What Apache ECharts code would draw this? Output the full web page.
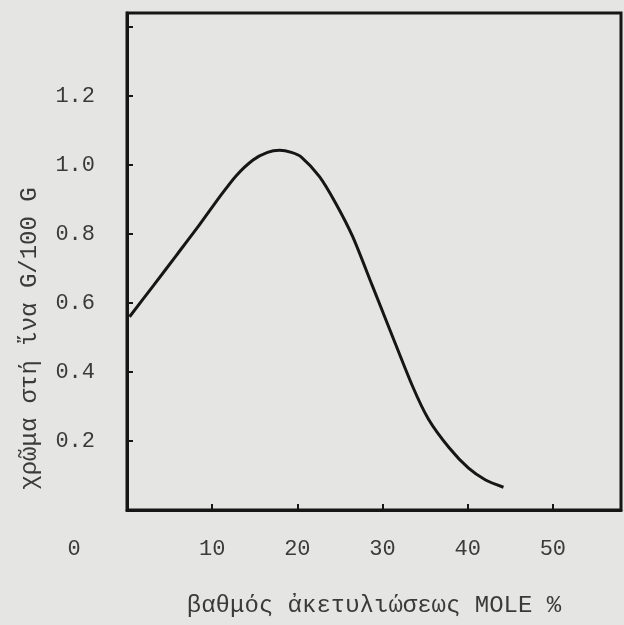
<!DOCTYPE html>
<html lang="el">
<head>
<meta charset="UTF-8">
<title>χρῶμα στή ἴνα</title>
<script src="https://cdn.jsdelivr.net/npm/echarts@6/dist/echarts.min.js"></script>
<style>
html, body { margin: 0; padding: 0; background: #e5e5e3; }
#main { width: 624px; height: 625px; }
</style>
</head>
<body>
<div id="main"></div>
<script>
// βαθμός ακετυλιώσεως (mole %)
var degreeX = [0.3, 3.1, 5.8, 8.5, 10.9, 12.8, 14.8, 16.5, 17.9, 19.3, 20.5, 22.6, 24.5, 26.5, 28.8, 30.8, 33.5, 35.4, 37.8, 40.1, 42.1, 44.2];
// χρώμα στην ίνα (g/100 g)
var colourY = [0.56, 0.65, 0.738, 0.826, 0.908, 0.968, 1.014, 1.036, 1.042, 1.036, 1.022, 0.966, 0.889, 0.792, 0.65, 0.526, 0.36, 0.263, 0.181, 0.121, 0.087, 0.066];
var xTicks = [0, 10, 20, 30, 40, 50];
var yTicks = [0.2, 0.4, 0.6, 0.8, 1.0, 1.2];
var xTitle = 'βαθμός ἀκετυλιώσεως MOLE %';
var yTitle = 'χρῶμα στή ἴνα G/100 G';

var ink = '#161616';
var txt = '#3a3a3a';
var font = 'Liberation Mono, DejaVu Sans Mono, monospace';

var points = degreeX.map(function (x, i) { return [x, colourY[i]]; });

var chart = echarts.init(document.getElementById('main'));
chart.setOption({
  backgroundColor: '#e5e5e3',
  animation: false,
  grid: {
    left: 127, right: 1, top: 13, bottom: 115,
    show: true, borderColor: ink, borderWidth: 3
  },
  xAxis: {
    type: 'value', min: 0, max: 58, interval: 10,
    splitLine: { show: false },
    axisLine: { lineStyle: { color: ink, width: 3 } },
    axisTick: { inside: true, length: 6, lineStyle: { color: ink, width: 2 } },
    axisLabel: {
      margin: 28, color: txt, fontFamily: font, fontSize: 22,
      formatter: function (v) {
        if (xTicks.indexOf(v) < 0) return '';
        return v === 0 ? '{z|0}' : String(v);
      },
      rich: { z: { fontFamily: font, fontSize: 22, color: txt, padding: [0, 106, 0, 0] } }
    },
    name: xTitle, nameLocation: 'middle', nameGap: 84,
    nameTextStyle: { color: txt, fontFamily: font, fontSize: 24 }
  },
  yAxis: {
    type: 'value', min: 0, max: 1.44, interval: 0.2,
    splitLine: { show: false },
    axisLine: { lineStyle: { color: ink, width: 3 } },
    axisTick: { inside: true, length: 6, lineStyle: { color: ink, width: 2 } },
    axisLabel: {
      margin: 32, color: txt, fontFamily: font, fontSize: 22,
      formatter: function (v) {
        for (var i = 0; i < yTicks.length; i++) {
          if (Math.abs(yTicks[i] - v) < 1e-6) return yTicks[i].toFixed(1);
        }
        return '';
      }
    },
    name: yTitle, nameLocation: 'middle', nameGap: 85,
    nameTextStyle: { color: txt, fontFamily: font, fontSize: 24, padding: [0, 154, 0, 0] }
  },
  series: [{
    type: 'line',
    data: points,
    smooth: 0.25,
    symbol: 'none',
    lineStyle: { color: ink, width: 3 }
  }]
});
</script>
</body>
</html>
